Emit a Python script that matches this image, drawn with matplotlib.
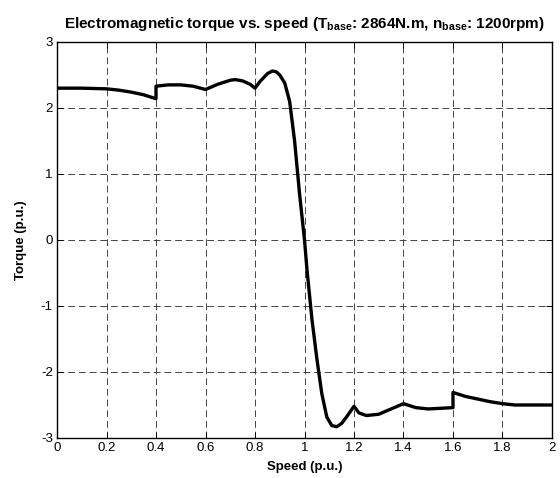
import numpy as np
import matplotlib
matplotlib.use("Agg")
import matplotlib.pyplot as plt

plt.rcParams['font.family'] = ['Liberation Sans', 'DejaVu Sans']
plt.rcParams['mathtext.fontset'] = 'custom'
plt.rcParams['mathtext.bf'] = 'Liberation Sans:bold'
plt.rcParams['mathtext.rm'] = 'Liberation Sans:bold'
plt.rcParams['axes.unicode_minus'] = False

# torque-speed curve (p.u.)
speed = [0, 0.1, 0.2, 0.25, 0.3, 0.35, 0.4, 0.4, 0.45, 0.5, 0.55, 0.6, 0.65,
         0.7, 0.72, 0.75, 0.78, 0.8, 0.82, 0.85, 0.87, 0.885, 0.9, 0.92,
         0.94, 0.96, 0.98, 1.0, 1.01, 1.03, 1.05, 1.07, 1.09, 1.11, 1.13,
         1.15, 1.17, 1.2, 1.22, 1.25, 1.3, 1.35, 1.4, 1.45, 1.5, 1.55, 1.6,
         1.6, 1.65, 1.7, 1.75, 1.8, 1.85, 1.9, 2.0]
torque = [2.30, 2.30, 2.29, 2.27, 2.24, 2.20, 2.14, 2.33, 2.35, 2.35, 2.33,
          2.28, 2.36, 2.42, 2.43, 2.41, 2.36, 2.30, 2.40, 2.52, 2.56, 2.55,
          2.50, 2.38, 2.10, 1.50, 0.70, 0.0, -0.45, -1.2, -1.8, -2.33, -2.68,
          -2.81, -2.83, -2.78, -2.68, -2.52, -2.62, -2.66, -2.64, -2.56,
          -2.48, -2.54, -2.56, -2.55, -2.54, -2.31, -2.37, -2.41, -2.45,
          -2.48, -2.50, -2.50, -2.50]

xticks = [0, 0.2, 0.4, 0.6, 0.8, 1, 1.2, 1.4, 1.6, 1.8, 2]
xticklabels = ['0', '0.2', '0.4', '0.6', '0.8', '1', '1.2', '1.4', '1.6', '1.8', '2']
yticks = [-3, -2, -1, 0, 1, 2, 3]

fig = plt.figure(figsize=(5.6, 4.78), dpi=100)
ax = fig.add_axes([0.1018, 0.0837, 0.8839, 0.8285])

ax.plot(speed, torque, color='black', lw=2.4, solid_joinstyle='round')

ax.set_xlim(0, 2)
ax.set_ylim(-3, 3)
ax.set_xticks(xticks)
ax.set_xticklabels(xticklabels)
ax.set_yticks(yticks)
ax.tick_params(direction='in', top=True, right=True, labelsize=9.5, length=4,
               width=0.7, pad=3)
ax.grid(True, color='#444444', lw=0.7, linestyle=(0, (7, 4)))
for s in ax.spines.values():
    s.set_linewidth(1.0)

ax.set_xlabel('Speed (p.u.)', fontsize=9.5, fontweight='bold', labelpad=5)
ax.set_ylabel('Torque (p.u.)', fontsize=9.5, fontweight='bold', labelpad=10)
ax.set_title(r'Electromagnetic torque vs. speed (T$_{\mathbf{base}}$: 2864N.m, '
             r'n$_{\mathbf{base}}$: 1200rpm)', fontsize=11, fontweight='bold',
             pad=10)

fig.savefig('out.png', dpi=100)
